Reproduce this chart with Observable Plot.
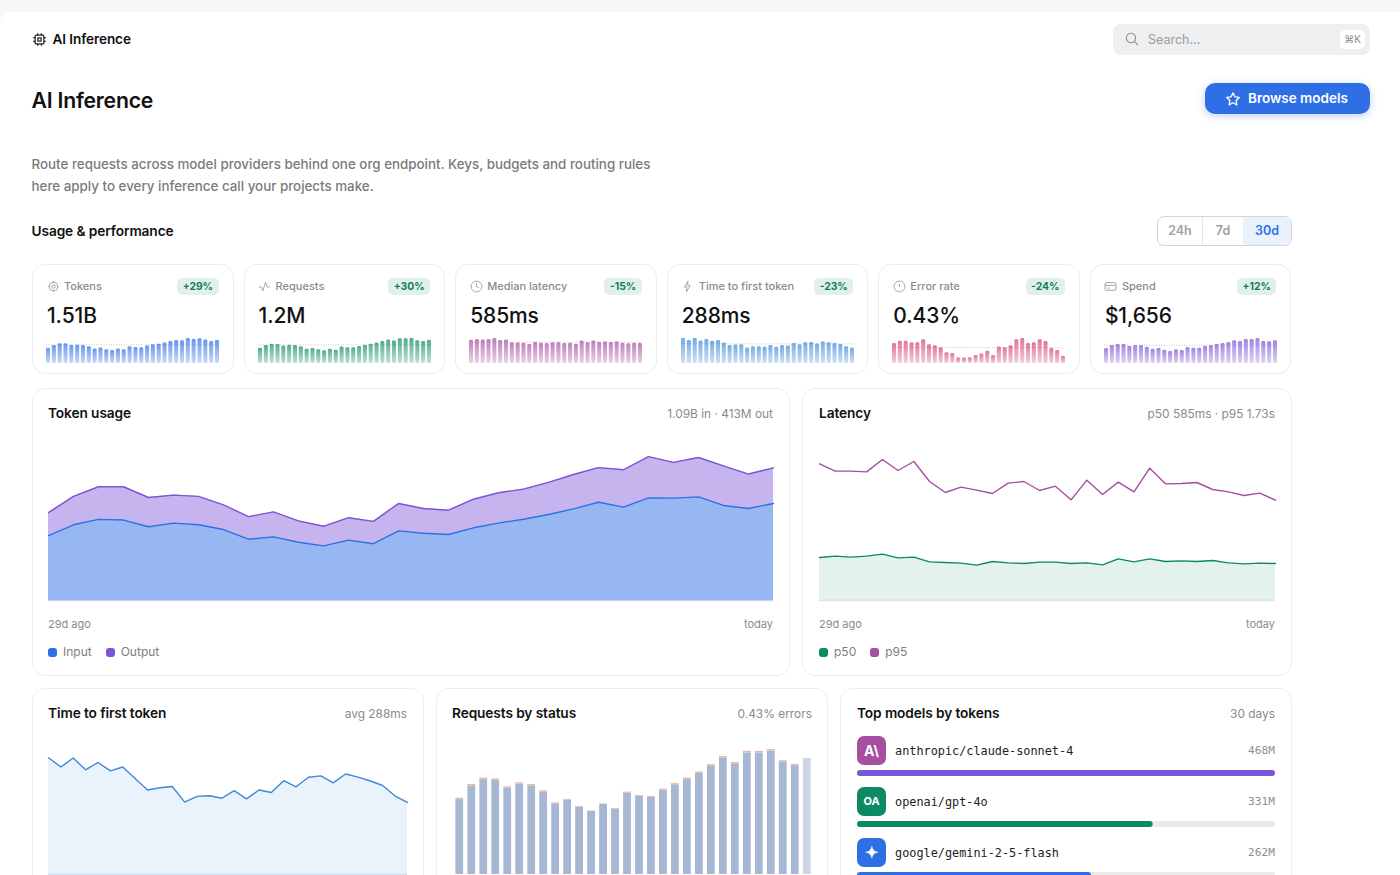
<!DOCTYPE html>
<html><head><meta charset="utf-8"><title>AI Inference</title>
<script src="https://cdn.jsdelivr.net/npm/d3@7"></script>
<script src="https://cdn.jsdelivr.net/npm/@observablehq/plot@0.6"></script>
<style>
*{box-sizing:border-box}
html,body{margin:0;width:1400px;height:875px;overflow:hidden;background:#f7f7f7;font-family:Inter,"Noto Sans",sans-serif;color:#111;-webkit-font-smoothing:antialiased}
#panel{position:absolute;left:0;top:12px;width:1400px;height:900px;background:#fff;border-radius:10px 0 0 0}
.abs{position:absolute}
#crumb{left:31.5px;top:31px;display:flex;align-items:center;gap:6px;font-size:13.6px;font-weight:600;line-height:17px;letter-spacing:-.1px}
#crumb svg{width:15px;height:15px;flex:none}
#search{left:1113px;top:24px;width:257px;height:31px;background:#eeeff0;border-radius:8px;color:#9b9b9b;font-size:12.5px;line-height:31px;padding-left:35px}
#search svg{position:absolute;left:11px;top:7px;width:16px;height:16px}
#search kbd{position:absolute;right:5px;top:6px;width:25px;height:19px;background:#fff;border-radius:5px;font:10px/19px Inter,sans-serif;text-align:center;color:#8e8e8e}
h1{margin:0;left:31.5px;top:85.5px;font-size:21.2px;line-height:28px;font-weight:600;letter-spacing:-.2px}
#browse{left:1205px;top:83px;width:165px;height:31px;background:#2f6fe6;border-radius:10px;color:#fff;font-size:13.5px;font-weight:600;line-height:31px;padding-left:43px;box-shadow:0 2px 9px rgba(47,111,230,.32)}
#browse svg{position:absolute;left:20px;top:8px;width:16px;height:16px}
#desc{left:31.5px;top:153px;width:680px;margin:0;font-size:13.37px;line-height:22px;color:#7b7b7b;font-weight:500}
h2{margin:0;left:31.5px;top:222px;font-size:13.7px;line-height:18px;font-weight:600;letter-spacing:-.1px}
#seg{left:1157px;top:216px;width:135px;height:30px;border:1px solid #d5d5d5;border-radius:7px;display:flex;overflow:hidden;font-size:12.5px;font-weight:600;line-height:28px;text-align:center;color:#a0a0a0}
#seg span:nth-child(1){width:45px;border-right:1px solid #e6e6e6}
#seg span:nth-child(2){width:40px}
#seg span:nth-child(3){flex:1;background:#e9f1fd;color:#2f6fe6}
.grid{position:absolute;left:32px;width:1260px;display:grid}
#kpis{top:264px;width:1259.5px;grid-template-columns:repeat(6,1fr);gap:10px}
#row2{top:388px;grid-template-columns:758px 490px;gap:12px}
#row3{top:688px;grid-template-columns:392px 392px 452px;gap:12px}
.card{position:relative;background:#fff;border:1px solid #ececec;border-radius:13px}
.kpi{height:110px}
.kpi .ic{position:absolute;left:13.5px;top:15px;width:13px;height:13px;color:#9d9d9d}
.kpi .lb{position:absolute;left:31px;top:14px;font-size:11px;line-height:15px;color:#8b8b8b;font-weight:500}
.kpi .bd{position:absolute;right:14px;top:13px;height:17px;padding:0 5.5px;background:#e1f0ea;border-radius:5px;font-size:10.3px;line-height:17px;font-weight:700;color:#0d7f5c}
.kpi .vl{position:absolute;left:14px;top:37px;font-size:21px;line-height:28px;font-weight:500;letter-spacing:-.1px}
.kpi .sp{position:absolute;left:13px;top:71px;line-height:0}
.wide{height:288px}
.tall{height:320px}
.card h3{position:absolute;left:15px;top:15px;margin:0;font-size:13.7px;line-height:18px;font-weight:600;letter-spacing:-.1px}
.note{position:absolute;right:16px;top:16px;font-size:11.9px;line-height:18px;color:#8b8b8b}
.plot{position:absolute;left:15px;top:51px;line-height:0}
.ends{position:absolute;left:15px;top:228px;display:flex;justify-content:space-between;font-size:11px;line-height:14px;color:#8b8b8b}
.leg{position:absolute;left:15px;top:255px;display:flex;gap:14px;font-size:12px;line-height:16px;color:#7e7e7e}
.leg span{display:flex;align-items:center;gap:6px}
.leg i{display:block;width:9px;height:9px;border-radius:3px}
.model{position:absolute;left:16px;width:418px}
.model .logo{position:absolute;left:0;top:0;width:29px;height:29px;border-radius:7px;color:#fff;font-weight:700;text-align:center;line-height:29px}
.model .nm{position:absolute;left:38px;top:7px;font:11.85px/16px "DejaVu Sans Mono",monospace;color:#222}
.model .vv{position:absolute;right:0;top:7px;font:11.2px/15px "DejaVu Sans Mono",monospace;color:#8f8f8f}
.model .tr{position:absolute;left:0;top:33.5px;line-height:0}
/* per-card inner offsets */
#row2 .card:nth-child(1) .note{right:16px}
#row2 .card:nth-child(2) h3,#row2 .card:nth-child(2) .plot,#row2 .card:nth-child(2) .ends,#row2 .card:nth-child(2) .leg{left:16px}
#row3 .card:nth-child(2) .note{right:15px}
#row3 .card:nth-child(3) h3{left:16px}
svg{display:block}
</style></head><body>
<div id="panel"></div>
<div class="abs" id="crumb"><svg viewBox="0 0 24 24" fill="none" stroke="#222" stroke-width="2"><rect x="5" y="5" width="14" height="14" rx="2"/><rect x="9.5" y="9.5" width="5" height="5"/><path d="M9 2v3M15 2v3M9 19v3M15 19v3M2 9h3M2 15h3M19 9h3M19 15h3"/></svg><span>AI Inference</span></div>
<div class="abs" id="search"><svg viewBox="0 0 24 24" fill="none" stroke="#8f8f8f" stroke-width="1.6"><circle cx="10.5" cy="10.5" r="7"/><path d="M16 16l5 5"/></svg>Search…<kbd>⌘K</kbd></div>
<h1 class="abs">AI Inference</h1>
<div class="abs" id="browse"><svg viewBox="0 0 24 24" fill="none" stroke="#fff" stroke-width="2" stroke-linejoin="round"><path d="M12 2.8l2.9 5.9 6.5.9-4.7 4.6 1.1 6.5L12 17.6l-5.8 3.1 1.1-6.5L2.6 9.6l6.5-.9z"/></svg>Browse models</div>
<p class="abs" id="desc">Route requests across model providers behind one org endpoint. Keys, budgets and routing rules<br>here apply to every inference call your projects make.</p>
<h2 class="abs">Usage &amp; performance</h2>
<div class="abs" id="seg"><span>24h</span><span>7d</span><span>30d</span></div>
<div class="grid" id="kpis"></div>
<div class="grid" id="row2"></div>
<div class="grid" id="row3"></div>
<script>
// ---- data ----
const days = ["d29","d28","d27","d26","d25","d24","d23","d22","d21","d20","d19","d18","d17","d16","d15","d14","d13","d12","d11","d10","d9","d8","d7","d6","d5","d4","d3","d2","d1","d0"];
const endLabels = ["29d ago","today"];
const tokensInputM = [30.2,35.2,37.7,37.4,34.3,36.0,35.2,33.0,28.5,29.6,27.1,25.4,28.1,26.4,32.4,31.3,30.7,33.8,36.0,37.8,40.0,42.6,45.7,43.4,47.7,47.6,48.2,44.2,42.8,45.1];
const tokensOutputM = [10.7,13.2,15.2,15.5,13.6,13.0,13.2,11.5,10.5,11.6,9.9,9.1,10.4,10.4,12.7,11.5,11.3,13.3,14.1,14.0,14.9,16.0,16.1,17.4,19.2,16.6,18.3,18.4,16.0,16.6];
const tokensTotalM = [40.9,48.4,52.9,52.9,47.9,49.0,48.4,44.5,39.0,41.2,37.0,34.5,38.5,36.8,45.1,42.8,42.0,47.1,50.1,51.8,54.9,58.6,61.8,60.8,66.9,64.2,66.5,62.6,58.8,61.7];
const latencyP50 = [645,665,650,665,695,640,650,580,570,560,530,585,565,555,575,575,555,565,535,625,580,625,585,595,585,600,565,550,560,555];
const latencyP95 = [2050,1940,1940,1930,2115,1950,2085,1785,1620,1700,1655,1605,1760,1785,1650,1715,1510,1805,1590,1775,1630,1985,1750,1755,1770,1665,1630,1575,1610,1505];
const ttftMs = [366,337,365,328,351,325,337,301,265,272,276,227,245,247,239,263,237,265,257,294,275,305,309,287,315,305,293,279,246,226];
const requestsK = [32.7,38.6,41.3,40.9,37.5,39.3,38.6,35.9,30.7,32.2,29.2,27.3,30.3,28.3,35.3,33.9,33.5,36.6,39.0,41.3,43.9,47.0,50.5,48.0,52.8,52.8,53.5,48.8,47.2,49.8];
const status2xx = [32150,38000,40700,40350,37000,38750,38050,35450,30350,31850,28950,27150,30100,28100,35000,33600,33150,36200,38500,40700,43350,46350,49850,47450,52150,52150,52850,48300,46700,49800];
const status4xx = [380,400,400,380,350,380,380,320,240,250,190,110,150,150,220,220,260,300,380,420,380,440,420,360,420,420,420,340,340,0];
const status5xx = [170,200,200,170,150,170,170,130,110,100,60,40,50,50,80,80,90,100,120,180,170,210,230,190,230,230,230,160,160,0];
const errorRate = [0.52,0.58,0.58,0.54,0.54,0.62,0.49,0.46,0.41,0.28,0.26,0.14,0.14,0.15,0.21,0.25,0.32,0.21,0.43,0.41,0.46,0.62,0.65,0.52,0.54,0.62,0.57,0.39,0.34,0.19];
const spendUsd = [45,54,57,57,51,54,54,49,43,45,40,36,41,39,48,46,46,52,54,57,60,63,68,66,72,72,75,66,65,68];
const kpiLabels = ["Tokens","Requests","Median latency","Time to first token","Error rate","Spend"];
const kpiValues = ["1.51B","1.2M","585ms","288ms","0.43%","$1,656"];
const kpiDeltas = ["+29%","+30%","-15%","-23%","-24%","+12%"];
const kpiSeries = [tokensTotalM,requestsK,latencyP50,ttftMs,errorRate,spendUsd];
const kpiColors = ["#2f6fe6","#0d8a64","#a64ea0","#3f8ad8","#d4406f","#7a55d6"];
const modelNames = ["anthropic/claude-sonnet-4","openai/gpt-4o","google/gemini-2-5-flash"];
const modelTokensM = [468,331,262];
const modelBarColors = ["#7a55d6","#0d8a64","#2f6fe6"];
const modelLogos = ["A\\","OA","✦"];
const modelLogoColors = ["#a64ea0","#0d8a64","#2f6fe6"];

// ---- helpers ----
const BLUE="#2f6fe6",PURPLE="#7a55d6",GREEN="#0d8a64",MAGENTA="#a64ea0",BASE="#e2e2e2";
const style={background:"transparent",overflow:"visible"};
const icons=[
 '<circle cx="12" cy="12" r="3.2"/><circle cx="12" cy="12" r="7.5"/><path d="M12 2v2.5M12 19.5V22M2 12h2.5M19.5 12H22M5 5l1.7 1.7M17.3 17.3L19 19M19 5l-1.7 1.7M6.7 17.3L5 19"/>',
 '<path d="M2 13h4l3 7 5-16 3 9h5"/>',
 '<circle cx="12" cy="12" r="10"/><path d="M12 6v6l4 2"/>',
 '<path d="M13 2L6 13h5l-1 9 7-12h-5z"/>',
 '<circle cx="12" cy="12" r="10"/><path d="M12 7v6M12 16.5v.5"/>',
 '<rect x="2" y="5" width="20" height="14" rx="2"/><path d="M2 10h20M6 15h5"/>'];
function sparkline(values,color,id){
  const defs=()=>{const s=d3.create("svg:defs");const g=s.append("linearGradient").attr("id",id).attr("x1",0).attr("y1",0).attr("x2",0).attr("y2",1);
    g.append("stop").attr("offset","0%").attr("stop-color",color).attr("stop-opacity",.72);
    g.append("stop").attr("offset","100%").attr("stop-color",color).attr("stop-opacity",.26);return s.node();};
  return Plot.plot({width:173,height:27,margin:0,marginTop:2,style,
    x:{type:"band",domain:days,axis:null,paddingInner:.3,paddingOuter:0,round:false},
    y:{domain:[0,d3.max(values)],axis:null},
    marks:[defs,
      Plot.ruleY([d3.mean(values)],{stroke:"#c9c9c9",strokeDasharray:"1,1.5"}),
      Plot.barY(values,{x:(d,i)=>days[i],y:d=>d,fill:`url(#${id})`,rx:1.4})]});
}
function chartCard(parent,cls,title,note){
  const c=document.createElement("div");c.className="card "+cls;
  c.innerHTML=`<h3>${title}</h3><div class="note">${note}</div>`;parent.appendChild(c);return c;
}
function place(card,svg){const d=document.createElement("div");d.className="plot";d.appendChild(svg);card.appendChild(d);}
function footer(card,width,items){
  const e=document.createElement("div");e.className="ends";e.style.width=width+"px";
  e.innerHTML=endLabels.map(t=>`<span>${t}</span>`).join("");card.appendChild(e);
  const l=document.createElement("div");l.className="leg";
  l.innerHTML=items.map(([t,c])=>`<span><i style="background:${c}"></i>${t}</span>`).join("");card.appendChild(l);
}

// ---- KPI cards ----
const kpis=document.getElementById("kpis");
kpiLabels.forEach((lb,k)=>{
  const c=document.createElement("div");c.className="card kpi";
  c.innerHTML=`<svg class="ic" viewBox="0 0 24 24" fill="none" stroke="currentColor" stroke-width="1.7">${icons[k]}</svg><div class="lb">${lb}</div><div class="bd">${kpiDeltas[k]}</div><div class="vl">${kpiValues[k]}</div>`;
  const s=document.createElement("div");s.className="sp";s.appendChild(sparkline(kpiSeries[k],kpiColors[k],"sg"+k));c.appendChild(s);
  kpis.appendChild(c);
});

// ---- Token usage ----
const row2=document.getElementById("row2"),row3=document.getElementById("row3");
const tokenRows=[...tokensInputM.map((v,i)=>({day:i,series:"Input",value:v})),...tokensOutputM.map((v,i)=>({day:i,series:"Output",value:v}))];
const tokenCard=chartCard(row2,"wide","Token usage","1.09B in · 413M out");
place(tokenCard,Plot.plot({width:725,height:161,margin:0,marginBottom:1,style,
  x:{domain:[0,29],axis:null},y:{domain:[0,74.4],axis:null},
  color:{domain:["Input","Output"],range:[BLUE,PURPLE]},
  marks:[Plot.ruleY([0],{stroke:"#c9d6ee",strokeWidth:1.5}),
    Plot.areaY(tokenRows,{x:"day",y:"value",fill:"series",z:"series",fillOpacity:d=>d.series==="Input"?.5:.44}),
    Plot.lineY(tokenRows,Plot.stackY2({x:"day",y:"value",z:"series",stroke:"series",strokeWidth:1.4}))]}));
footer(tokenCard,725,[["Input",BLUE],["Output",PURPLE]]);

// ---- Latency ----
const latCard=chartCard(row2,"wide","Latency","p50 585ms · p95 1.73s");
place(latCard,Plot.plot({width:456,height:161,margin:0,marginBottom:1,style,
  x:{domain:[0,29],axis:null},y:{domain:[0,2400],axis:null},
  marks:[Plot.ruleY([0],{stroke:BASE,strokeWidth:1.5}),
    Plot.areaY(latencyP50,{x:(d,i)=>i,y:d=>d,fill:GREEN,fillOpacity:.11}),
    Plot.lineY(latencyP50,{x:(d,i)=>i,y:d=>d,stroke:GREEN,strokeWidth:1.4}),
    Plot.lineY(latencyP95,{x:(d,i)=>i,y:d=>d,stroke:MAGENTA,strokeWidth:1.4})]}));
footer(latCard,456,[["p50",GREEN],["p95",MAGENTA]]);

// ---- Time to first token ----
const ttftCard=chartCard(row3,"tall","Time to first token","avg 288ms");
place(ttftCard,Plot.plot({width:359,height:135,margin:0,marginBottom:1,style,
  x:{domain:[0,29],axis:null},y:{domain:[0,420],axis:null},
  marks:[Plot.ruleY([0],{stroke:"#cfdff2",strokeWidth:1.5}),
    Plot.areaY(ttftMs,{x:(d,i)=>i,y:d=>d,fill:"#3f8ad8",fillOpacity:.11}),
    Plot.lineY(ttftMs,{x:(d,i)=>i,y:d=>d,stroke:"#3f8ad8",strokeWidth:1.4})]}));

// ---- Requests by status ----
const statusRows=[["2xx",status2xx],["4xx",status4xx],["5xx",status5xx]].flatMap(([s,a])=>a.map((v,i)=>({day:days[i],status:s,value:v,last:i===29})));
const reqCard=chartCard(row3,"tall","Requests by status","0.43% errors");
place(reqCard,Plot.plot({width:360,height:135,margin:0,marginBottom:1,style,
  x:{type:"band",domain:days,axis:null,paddingInner:.35,paddingOuter:.2,round:false},
  y:{domain:[0,57500],axis:null},
  color:{domain:["2xx","4xx","5xx"],range:["#a6b7d3","#e3bfa8","#e0806e"]},
  marks:[Plot.barY(statusRows,{x:"day",y:"value",fill:"status",fillOpacity:d=>d.last?.58:1})]}));
reqCard.querySelector(".plot").style.left="15.5px";

// ---- Top models ----
const modelCard=chartCard(row3,"tall","Top models by tokens","30 days");
modelNames.forEach((n,k)=>{
  const m=document.createElement("div");m.className="model";m.style.top=(47+51*k)+"px";
  m.innerHTML=`<div class="logo" style="background:${modelLogoColors[k]};font-size:${[14,11,16][k]}px">${modelLogos[k]}</div><div class="nm">${n}</div><div class="vv">${modelTokensM[k]}M</div>`;
  const t=document.createElement("div");t.className="tr";
  t.appendChild(Plot.plot({width:418,height:6,margin:0,style,x:{domain:[0,468],axis:null},y:{axis:null},
    marks:[Plot.barX([468],{x:d=>d,fill:"#ebebeb",rx:3}),Plot.barX([modelTokensM[k]],{x:d=>d,fill:modelBarColors[k],rx:3})]}));
  m.appendChild(t);modelCard.appendChild(m);
});
</script>
</body></html>
